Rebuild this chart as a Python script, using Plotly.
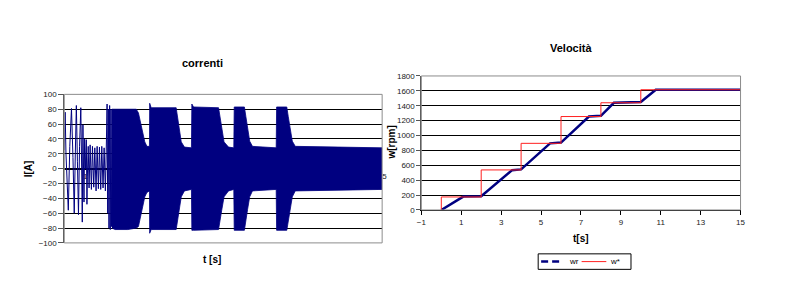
import plotly.graph_objects as go

# ---------------- data: left chart "correnti" ----------------
# early, individually visible oscillations (t [s], I [A])
t_early = [0.00, 0.04, 0.08, 0.13, 0.19, 0.26, 0.34, 0.41, 0.47, 0.52,
           0.57, 0.62, 0.67, 0.72, 0.78, 0.82, 0.85, 0.88, 0.90, 0.93,
           0.96, 1.00, 1.04, 1.07, 1.09, 1.13, 1.17, 1.22, 1.28, 1.33,
           1.39, 1.44, 1.50, 1.55, 1.61, 1.66, 1.72, 1.77, 1.83, 1.88,
           1.94, 1.98, 2.02, 2.05, 2.08, 2.11, 2.14, 2.17, 2.20, 2.23, 2.25]
i_early = [25, 76, 20, -30, -56, 30, 81, 15, -60, 20,
           85, 10, -62, 30, 82, 0, -72, 59, -20, -45,
           40, 0, 39, -48, -10, 30, -26, 32, -28, 30,
           -25, 28, -30, 30, -27, 29, -28, 30, -26, 28,
           -30, 25, 87, -60, 80, -80, 85, -82, 80, -78, 80]

# dense part: envelope of the current band (upper / lower)
env_t = [2.25, 2.4, 3.0, 3.4, 3.5, 3.6, 3.7, 3.8, 3.9, 4.02,
         4.03, 4.1, 5.28, 5.34, 5.42, 5.52, 5.67, 6.0, 6.02, 6.1,
         7.28, 7.35, 7.43, 7.54, 7.75, 8.0, 8.02, 8.5, 8.57, 8.65,
         8.75, 8.88, 10.0, 10.02, 10.5, 10.57, 10.65, 10.76, 10.9, 15.0]
env_up = [80, 80, 80, 80, 75, 62, 48, 36, 30, 30,
          88, 82, 82, 70, 54, 36, 29, 28, 87, 83,
          82, 70, 54, 36, 29, 28, 83, 83, 70, 55,
          37, 30, 28, 83, 83, 70, 55, 37, 30, 28]
env_lo = [-80, -82, -82, -80, -78, -68, -52, -38, -32, -30,
          -87, -82, -82, -70, -56, -38, -30, -28, -83, -83,
          -82, -70, -56, -38, -30, -28, -83, -83, -70, -55,
          -38, -30, -28, -83, -83, -70, -55, -38, -30, -28]

left_xticks = [1, 3, 5, 7, 9, 11, 13, 15]

# ---------------- data: right chart "Velocità" ----------------
wr_t = [0, 1.1, 2.0, 3.55, 4.0, 5.45, 6.0, 7.4, 8.0, 8.65, 10.0, 10.75, 15]
wr_v = [0, 180, 184, 535, 545, 895, 905, 1255, 1265, 1440, 1450, 1615, 1615]
ws_t = [0, 0, 2, 2, 4, 4, 6, 6, 8, 8, 10, 10, 15]
ws_v = [0, 175, 175, 538, 538, 895, 895, 1255, 1255, 1440, 1440, 1615, 1615]
legend_names = ["wr", "w*"]

NAVY = "#000080"
RED = "#FF2020"
FONT = "Liberation Sans, Arial, sans-serif"
W, H = 791, 285

fig = go.Figure()

# left chart traces
band_x = env_t + env_t[::-1]
band_y = env_up + env_lo[::-1]
fig.add_trace(go.Scatter(x=band_x, y=band_y, fill="toself", fillcolor=NAVY,
                         mode="lines", line=dict(color=NAVY, width=0.8),
                         showlegend=False, hoverinfo="skip",
                         xaxis="x", yaxis="y"))
fig.add_trace(go.Scatter(x=t_early, y=i_early, mode="lines",
                         line=dict(color=NAVY, width=1),
                         showlegend=False, xaxis="x", yaxis="y"))

# right chart traces
fig.add_trace(go.Scatter(x=wr_t, y=wr_v, mode="lines", name=legend_names[0],
                         line=dict(color=NAVY, width=2.5),
                         showlegend=False, xaxis="x2", yaxis="y2"))
fig.add_trace(go.Scatter(x=ws_t, y=ws_v, mode="lines", name=legend_names[1],
                         line=dict(color=RED, width=1),
                         showlegend=False, xaxis="x2", yaxis="y2"))

tickfont = dict(family=FONT, size=8, color="#222222")

fig.update_layout(
    width=W, height=H,
    margin=dict(l=0, r=0, t=0, b=0),
    paper_bgcolor="white", plot_bgcolor="white",
    font=dict(family=FONT, size=8, color="#000"),
    showlegend=False,
    xaxis=dict(domain=[0.0759, 0.4829], range=[0, 15],
               tickvals=left_xticks, anchor="free", position=0.4035,
               showline=True, linecolor="#000", linewidth=1,
               showgrid=False, zeroline=False, ticks="",
               layer="below traces", tickfont=tickfont),
    yaxis=dict(domain=[0.1344, 0.6726], range=[-100, 100], dtick=20,
               showgrid=True, gridcolor="#000", gridwidth=1,
               zeroline=False, showline=True, linecolor="#555",
               ticks="outside", ticklen=5, tickcolor="#555",
               tickfont=tickfont, anchor="x"),
    xaxis2=dict(domain=[0.5331, 0.9418], range=[-1, 15], tick0=-1, dtick=2,
                anchor="y2", showline=True, linecolor="#000", linewidth=1,
                showgrid=False, zeroline=False, ticks="outside", ticklen=4,
                tickcolor="#000", tickfont=tickfont),
    yaxis2=dict(domain=[0.2537, 0.7393], range=[0, 1800], dtick=200,
                showgrid=True, gridcolor="#000", gridwidth=1,
                zeroline=False, showline=True, linecolor="#555",
                ticks="outside", ticklen=4, tickcolor="#555",
                tickfont=tickfont, anchor="x2"),
)

# plot area borders
for xr, yr in (("x domain", "y domain"), ("x2 domain", "y2 domain")):
    fig.add_shape(type="rect", xref=xr, yref=yr, x0=0, x1=1, y0=0, y1=1,
                  line=dict(color="#8c8c8c", width=1), layer="above")

def px(x):
    return x / W

def py(y):
    return 1 - y / H

# manual legend box (Excel style)
fig.add_shape(type="rect", xref="paper", yref="paper",
              x0=px(540), x1=px(634), y0=py(274), y1=py(258),
              line=dict(color="#000", width=1), fillcolor="white")
fig.add_shape(type="line", xref="paper", yref="paper",
              x0=px(543), x1=px(562), y0=py(266), y1=py(266),
              line=dict(color=NAVY, width=2.5, dash="7px,4px"))
fig.add_shape(type="line", xref="paper", yref="paper",
              x0=px(584), x1=px(609), y0=py(266), y1=py(266),
              line=dict(color=RED, width=1))
for name, x in zip(legend_names, (569, 611)):
    fig.add_annotation(text=name, x=px(x), y=py(266), xref="paper", yref="paper",
                       showarrow=False, xanchor="left", yanchor="middle",
                       font=dict(family=FONT, size=8, color="#000"))

title_font = dict(family=FONT, size=11, color="#000")
label_font = dict(family=FONT, size=10, color="#000")
anns = [
    dict(text="<b>correnti</b>", x=200, y=61, font=title_font),
    dict(text="<b>Velocità</b>", x=573, y=45, font=title_font),
    dict(text="<b>t [s]</b>", x=210, y=264, font=label_font),
    dict(text="<b>t[s]</b>", x=583, y=242, font=label_font),
    dict(text="<b>I[A]</b>", x=24, y=170, font=label_font, textangle=-90),
    dict(text="<b>w[rpm]</b>", x=391, y=143, font=label_font, textangle=-90),
]
for a in anns:
    fig.add_annotation(text=a["text"], x=px(a["x"]), y=py(a["y"]),
                       xref="paper", yref="paper", showarrow=False,
                       xanchor="center", yanchor="middle", font=a["font"],
                       textangle=a.get("textangle", 0))

fig.write_html("out.html")
